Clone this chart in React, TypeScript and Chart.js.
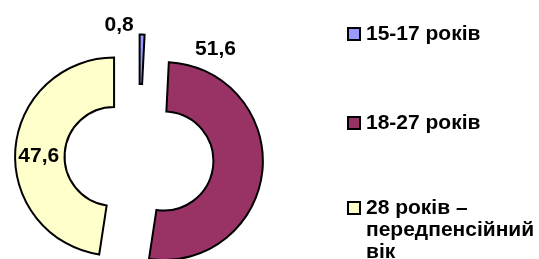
import React, { useEffect, useRef } from "react";
import { Chart, registerables } from "chart.js";

Chart.register(...registerables);

// ---- data ----
const categories: string[] = ["15-17 років", "18-27 років", "28 років –\nпередпенсійний\nвік"];
const values: number[] = [0.8, 51.6, 47.6];
const colors: string[] = ["#9999FF", "#993366", "#FFFFCC"];

// ---- label placement (style): angle from top in degrees, distance as fraction of outer radius ----
const labelAngles: number[] = [-10.6, 24.6, 271.2];
const labelRadii: number[] = [1.124, 1.253, 0.761];

const EXPLODE = 25;
const FONT = "'Liberation Sans', Arial, sans-serif";

const explodePlugin = {
  id: "explode",
  afterDatasetsUpdate(chart: any) {
    const meta = chart.getDatasetMeta(0);
    meta.data.forEach((arc: any) => {
      const mid = (arc.startAngle + arc.endAngle) / 2;
      arc.x += Math.cos(mid) * EXPLODE;
      arc.y += Math.sin(mid) * EXPLODE;
    });
  },
};

const labelPlugin = {
  id: "valueLabels",
  afterDatasetsDraw(chart: any) {
    const ctx = chart.ctx;
    const meta = chart.getDatasetMeta(0);
    ctx.save();
    ctx.font = `bold 21px ${FONT}`;
    ctx.fillStyle = "#000";
    ctx.textAlign = "center";
    ctx.textBaseline = "middle";
    meta.data.forEach((arc: any, i: number) => {
      const a = (labelAngles[i] * Math.PI) / 180;
      const d = labelRadii[i] * arc.outerRadius;
      const px = arc.x + Math.sin(a) * d;
      const py = arc.y - Math.cos(a) * d;
      const txt = values[i].toFixed(1).replace(".", ",");
      ctx.fillText(txt, px, py + 1);
    });
    ctx.restore();
  },
};

const legendTops: number[] = [22, 111, 196];

export default function App() {
  const canvasRef = useRef<HTMLCanvasElement | null>(null);

  useEffect(() => {
    if (!canvasRef.current) return;
    const chart = new Chart(canvasRef.current, {
      type: "doughnut",
      data: {
        labels: categories,
        datasets: [
          {
            data: values,
            backgroundColor: colors,
            borderColor: "#000000",
            borderWidth: 2,
            borderJoinStyle: "miter",
          } as any,
        ],
      },
      options: {
        animation: false,
        responsive: true,
        maintainAspectRatio: false,
        events: [],
        cutout: "50%",
        radius: 99,
        layout: { padding: { left: 0, right: 261, top: 58, bottom: 0 } },
        plugins: {
          legend: { display: false },
          tooltip: { enabled: false },
        },
      } as any,
      plugins: [explodePlugin, labelPlugin],
    });
    return () => chart.destroy();
  }, []);

  return (
    <div style={{ position: "absolute", left: 0, top: 0, width: 539, height: 259, overflow: "hidden", background: "#fff" }}>
      <div style={{ position: "absolute", left: 0, top: 0, width: 539, height: 259 }}>
        <canvas ref={canvasRef} />
      </div>
      {categories.map((c, i) => (
        <div
          key={i}
          style={{
            position: "absolute",
            left: 347,
            top: legendTops[i],
            display: "flex",
            alignItems: "flex-start",
            fontFamily: FONT,
            fontWeight: "bold",
            fontSize: 21,
            lineHeight: "22px",
            color: "#000",
          }}
        >
          <span
            style={{
              display: "inline-block",
              width: 10,
              height: 10,
              marginTop: 5,
              background: colors[i],
              border: "2px solid #000",
              flex: "none",
            }}
          />
          <span style={{ marginLeft: 5, whiteSpace: "pre-line" }}>{c}</span>
        </div>
      ))}
    </div>
  );
}
